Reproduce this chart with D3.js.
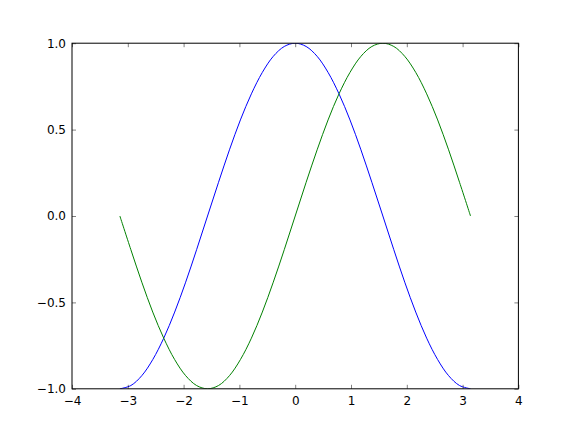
<!DOCTYPE html>
<html>
<head>
<meta charset="utf-8">
<script src="https://cdn.jsdelivr.net/npm/d3@7"></script>
<style>
  body { margin: 0; background: #fff; }
  svg { display: block; }
  .tick text { font-family: "DejaVu Sans", sans-serif; font-size: 12px; fill: #000; }
</style>
</head>
<body>
<svg id="chart" width="576" height="432"></svg>
<script>
// values, step of about pi/16
const xs = [-3.142, -2.945, -2.749, -2.553, -2.356, -2.160, -1.963, -1.767, -1.571,
  -1.374, -1.178, -0.982, -0.785, -0.589, -0.393, -0.196, 0,
  0.196, 0.393, 0.589, 0.785, 0.982, 1.178, 1.374, 1.571,
  1.767, 1.963, 2.160, 2.356, 2.553, 2.749, 2.945, 3.142];
const cosVals = [-1, -0.981, -0.924, -0.831, -0.707, -0.556, -0.383, -0.195, 0,
  0.195, 0.383, 0.556, 0.707, 0.831, 0.924, 0.981, 1,
  0.981, 0.924, 0.831, 0.707, 0.556, 0.383, 0.195, 0,
  -0.195, -0.383, -0.556, -0.707, -0.831, -0.924, -0.981, -1];
const sinVals = [0, -0.195, -0.383, -0.556, -0.707, -0.831, -0.924, -0.981, -1,
  -0.981, -0.924, -0.831, -0.707, -0.556, -0.383, -0.195, 0,
  0.195, 0.383, 0.556, 0.707, 0.831, 0.924, 0.981, 1,
  0.981, 0.924, 0.831, 0.707, 0.556, 0.383, 0.195, 0];
const xTicks = [-4, -3, -2, -1, 0, 1, 2, 3, 4];
const yTicks = [-1.0, -0.5, 0.0, 0.5, 1.0];

const svg = d3.select("#chart");
const margin = {top: 43.2, right: 57.6, bottom: 43.2, left: 72};
const width = +svg.attr("width") - margin.left - margin.right;
const height = +svg.attr("height") - margin.top - margin.bottom;

const x = d3.scaleLinear().domain([-4, 4]).range([0, width]);
const y = d3.scaleLinear().domain([-1, 1]).range([height, 0]);

const g = svg.append("g").attr("transform", "translate(" + margin.left + "," + margin.top + ")");

svg.append("defs").append("clipPath").attr("id", "clip")
  .append("rect").attr("width", width).attr("height", height);

const minus = d => d3.format(".1f")(d).replace("-", "\u2212");
const minusInt = d => String(d).replace("-", "\u2212");

// lines
const line = d3.line().x(d => x(d[0])).y(d => y(d[1])).curve(d3.curveCatmullRom);
const plot = g.append("g").attr("clip-path", "url(#clip)");
plot.append("path")
  .attr("d", line(xs.map((v, i) => [v, cosVals[i]])))
  .attr("fill", "none").attr("stroke", "#0000ff").attr("stroke-width", 1);
plot.append("path")
  .attr("d", line(xs.map((v, i) => [v, sinVals[i]])))
  .attr("fill", "none").attr("stroke", "#008000").attr("stroke-width", 1);

// axes, ticks pointing inwards on all four sides
g.append("g").attr("transform", "translate(0," + height + ")")
  .call(d3.axisBottom(x).tickValues(xTicks).tickFormat(minusInt).tickSizeInner(-4).tickSizeOuter(0).tickPadding(8))
  .call(a => a.select(".domain").remove());
g.append("g")
  .call(d3.axisTop(x).tickValues(xTicks).tickFormat("").tickSizeInner(-4).tickSizeOuter(0))
  .call(a => a.select(".domain").remove());
g.append("g")
  .call(d3.axisLeft(y).tickValues(yTicks).tickFormat(minus).tickSizeInner(-4).tickSizeOuter(0).tickPadding(6))
  .call(a => a.select(".domain").remove());
g.append("g").attr("transform", "translate(" + width + ",0)")
  .call(d3.axisRight(y).tickValues(yTicks).tickFormat("").tickSizeInner(-4).tickSizeOuter(0))
  .call(a => a.select(".domain").remove());

g.selectAll(".tick line").attr("stroke", "#000").attr("stroke-width", 0.5);

// frame
g.append("rect").attr("width", width).attr("height", height)
  .attr("fill", "none").attr("stroke", "#000").attr("stroke-width", 1);
</script>
</body>
</html>
